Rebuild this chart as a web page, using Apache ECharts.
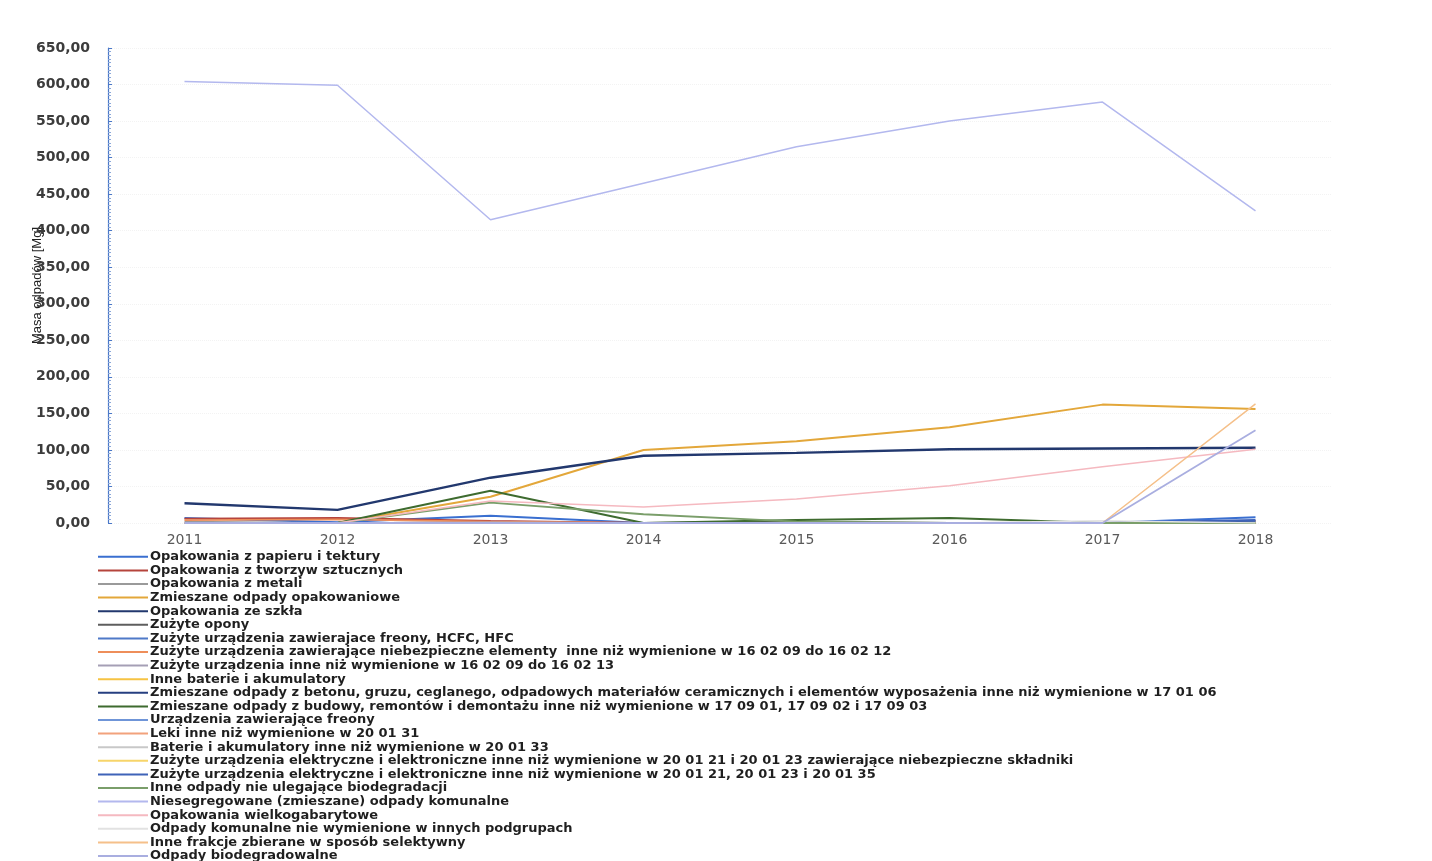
<!DOCTYPE html>
<html>
<head>
<meta charset="utf-8">
<script src="https://cdn.jsdelivr.net/npm/echarts@6/dist/echarts.min.js"></script>
<style>
html,body{margin:0;padding:0;background:#fff;}
#chart{width:1432px;height:861px;}
</style>
</head>
<body>
<div id="chart"></div>
<script>
// ---- data ----
const years = ['2011','2012','2013','2014','2015','2016','2017','2018'];
const yTicks = [0,50,100,150,200,250,300,350,400,450,500,550,600,650];

const seriesNames = [
  'Opakowania z papieru i tektury',
  'Opakowania z tworzyw sztucznych',
  'Opakowania z metali',
  'Zmieszane odpady opakowaniowe',
  'Opakowania ze szkła',
  'Zużyte opony',
  'Zużyte urządzenia zawierajace freony, HCFC, HFC',
  'Zużyte urządzenia zawierające niebezpieczne elementy  inne niż wymienione w 16 02 09 do 16 02 12',
  'Zużyte urządzenia inne niż wymienione w 16 02 09 do 16 02 13',
  'Inne baterie i akumulatory',
  'Zmieszane odpady z betonu, gruzu, ceglanego, odpadowych materiałów ceramicznych i elementów wyposażenia inne niż wymienione w 17 01 06',
  'Zmieszane odpady z budowy, remontów i demontażu inne niż wymienione w 17 09 01, 17 09 02 i 17 09 03',
  'Urządzenia zawierające freony',
  'Leki inne niż wymienione w 20 01 31',
  'Baterie i akumulatory inne niż wymienione w 20 01 33',
  'Zużyte urządzenia elektryczne i elektroniczne inne niż wymienione w 20 01 21 i 20 01 23 zawierające niebezpieczne składniki',
  'Zużyte urządzenia elektryczne i elektroniczne inne niż wymienione w 20 01 21, 20 01 23 i 20 01 35',
  'Inne odpady nie ulegające biodegradacji',
  'Niesegregowane (zmieszane) odpady komunalne',
  'Opakowania wielkogabarytowe',
  'Odpady komunalne nie wymienione w innych podgrupach',
  'Inne frakcje zbierane w sposób selektywny',
  'Odpady biodegradowalne'
];

const papier        = [7, 1, 10, 0, 0, 0, 0, 8];
const tworzywa      = [6, 7, 3, 0, 0, 0, 0, 3];
const metale        = [2, 0, 1, 0, 0, 0, 0, 0];
const zmieszaneOpak = [0, 0, 36, 100, 112, 131, 162, 156];
const szklo         = [27, 18, 62, 92, 96, 101, 102, 103];
const opony         = [0, 0, 0, 0, 2, 0, 0, 0];
const freonyHcfc    = [0, 0, 1, 0, 0, 0, 0, 0];
const niebezpElem   = [4, 5, 2, 0, 0, 0, 0, 0];
const urzInne       = [0, 0, 1, 0, 0, 0, 0, 0];
const baterieInne   = [0, 0, 0, 0, 0, 0, 0, 0];
const beton         = [0, 0, 0, 0, 0, 0, 0, 2];
const budowa        = [0, 0, 44, 0, 4, 7, 0, 0];
const urzFreony     = [0, 0, 0, 0, 0, 0, 0, 1];
const leki          = [0, 0, 0, 0, 0, 0, 0, 0];
const baterie       = [0, 0, 0, 0, 0, 0, 0, 0];
const elektroNieb   = [0, 0, 0, 0, 0, 0, 0, 0];
const elektroInne   = [0, 0, 0, 0, 0, 0, 0, 4];
const nieBio        = [0, 0, 28, 12, 2, 0, 0, 0];
const niesegreg     = [604, 599, 415, 465, 515, 550, 576, 427];
const wielkogab     = [0, 0, 30, 22, 33, 51, 77, 101];
const komunalneInne = [0, 0, 0, 0, 0, 0, 3, 0];
const inneFrakcje   = [0, 0, 0, 0, 0, 0, 0, 163];
const bio           = [0, 0, 0, 0, 0, 0, 0, 127];

const seriesValues = [papier, tworzywa, metale, zmieszaneOpak, szklo, opony, freonyHcfc,
  niebezpElem, urzInne, baterieInne, beton, budowa, urzFreony, leki, baterie, elektroNieb,
  elektroInne, nieBio, niesegreg, wielkogab, komunalneInne, inneFrakcje, bio];

// ---- styles ----
const seriesColors = ['#3A6FD0','#B5443C','#9A9A9A','#E3A73A','#22386E','#5E5E5E','#4E79C8',
  '#EE8E5A','#A59FB5','#F6C343','#263F80','#3E6B2F','#6F95D8','#F2A27C','#C8C8C8','#F7D56A',
  '#3F63B8','#7A9E6A','#B3B8EE','#F5B9C0','#E2E2E2','#F5C08A','#A9AEE0'];
const seriesWidths = [2,1.8,1.5,2,2.4,1.8,1.5,1.8,1.5,1.5,2,2,1.5,1.5,1.5,1.5,2,1.8,1.5,1.5,1.5,1.5,1.8];

const chart = echarts.init(document.getElementById('chart'));
const fmt = v => v.toFixed(2).replace('.', ',');

chart.setOption({
  animation: false,
  backgroundColor: '#ffffff',
  grid: { left: 108, right: 100, top: 48, bottom: 338 },
  legend: {
    orient: 'vertical',
    left: 98,
    top: 550,
    height: 400,
    icon: 'rect',
    itemWidth: 50,
    itemHeight: 2,
    itemGap: 0,
    padding: 0,
    textStyle: { fontFamily: 'DejaVu Sans', fontSize: 13, fontWeight: 'bold', color: '#1f1f1f', lineHeight: 13.6, padding: [0,0,0,-3] },
    data: seriesNames
  },
  xAxis: {
    type: 'category',
    data: years,
    boundaryGap: true,
    axisLine: { show: false },
    axisTick: { show: false },
    axisLabel: { margin: 10, color: '#5a5a5a', fontFamily: 'DejaVu Sans', fontSize: 14 }
  },
  yAxis: {
    type: 'value',
    min: yTicks[0],
    max: yTicks[yTicks.length - 1],
    interval: 50,
    name: 'Masa odpadów [Mg]',
    nameLocation: 'middle',
    nameGap: 64,
    nameRotate: 90,
    nameMoveOverlap: false,
    nameTextStyle: { fontFamily: 'Liberation Sans', fontSize: 13, color: '#222' },
    axisLine: { show: true, lineStyle: { color: '#4a78c8', width: 1.2 } },
    axisTick: { show: true, inside: true, length: 4, lineStyle: { color: '#4a78c8' } },
    minorTick: { show: true, splitNumber: 10, length: 3, lineStyle: { color: '#8aa6d8' } },
    splitLine: { show: true, lineStyle: { color: '#f3f3f3', type: 'dotted' } },
    axisLabel: { margin: 18, color: '#3c3c3c', fontFamily: 'DejaVu Sans', fontSize: 14, fontWeight: 'bold', formatter: fmt }
  },
  series: seriesNames.map((n, i) => ({
    name: n,
    type: 'line',
    data: seriesValues[i],
    symbol: 'none',
    color: seriesColors[i],
    lineStyle: { color: seriesColors[i], width: seriesWidths[i] }
  }))
});
</script>
</body>
</html>
